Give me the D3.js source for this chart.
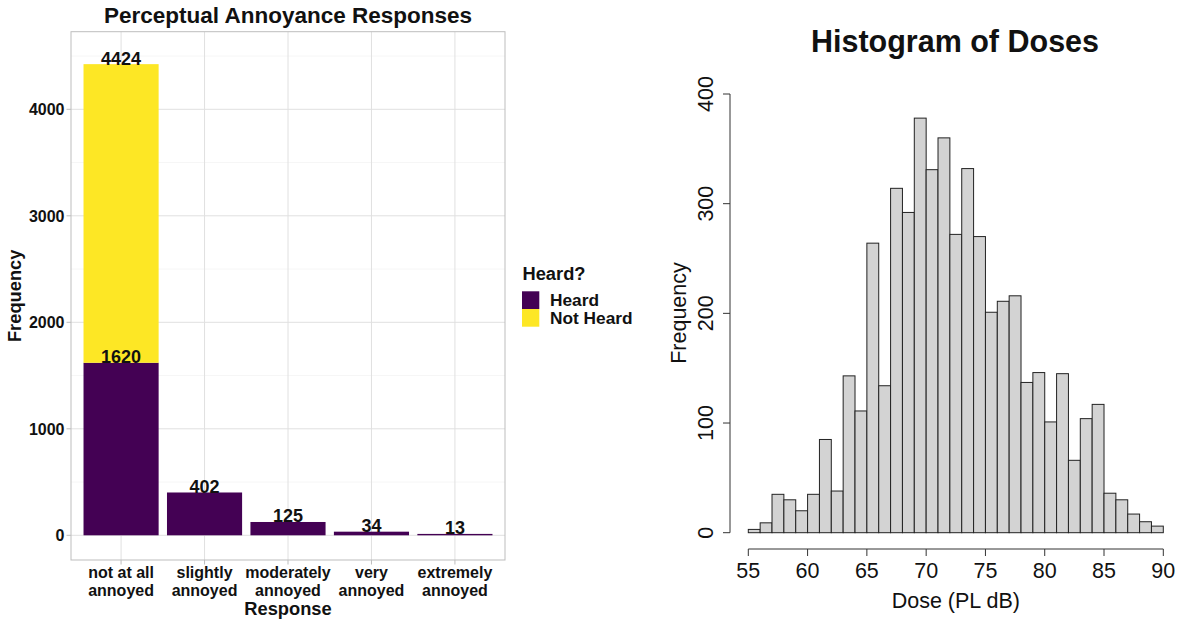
<!DOCTYPE html>
<html><head><meta charset="utf-8">
<script src="https://cdn.jsdelivr.net/npm/d3@7"></script>
<style>
body{margin:0;background:#fff;}
svg{display:block;font-family:"Liberation Sans",Arial,sans-serif;}
</style></head>
<body><svg id="c" width="1181" height="622"></svg>
<script>
// ---- Left chart data ----
const categories = ["not at all annoyed","slightly annoyed","moderately annoyed","very annoyed","extremely annoyed"];
const categoryLines = [["not at all","annoyed"],["slightly","annoyed"],["moderately","annoyed"],["very","annoyed"],["extremely","annoyed"]];
const heard = [1620, 402, 125, 34, 13];
const notHeard = [2804, 0, 0, 0, 0];
const groups = ["Heard","Not Heard"];
const groupColors = ["#440154","#FDE725"];
const yTicksLeft = [0,1000,2000,3000,4000];
const yMinorLeft = [500,1500,2500,3500,4500];

// ---- Right chart data ----
const binStarts = [55,56,57,58,59,60,61,62,63,64,65,66,67,68,69,70,71,72,73,74,75,76,77,78,79,80,81,82,83,84,85,86,87,88,89];
const binCounts = [3,9,35,30,20,35,85,38,143,111,264,134,314,292,378,331,360,272,332,270,201,211,216,137,146,101,145,66,104,117,36,30,17,10,6];
const xTicksRight = [55,60,65,70,75,80,85,90];
const yTicksRight = [0,100,200,300,400];

const svg = d3.select("#c");

// ================= LEFT =================
(function(){
  const L=71,R=505,T=31.7,B=560;
  const x = d3.scaleBand().domain(categories).range([L,R]).paddingInner(0.1).paddingOuter(0.15);
  const y = d3.scaleLinear().domain([0,4000]).range([535.3,109.3]);
  const g = svg.append("g");
  // minor grid
  g.selectAll(".mn").data(yMinorLeft.filter(v=>y(v)>T)).enter().append("line")
    .attr("x1",L).attr("x2",R).attr("y1",d=>y(d)).attr("y2",d=>y(d))
    .attr("stroke","#efefef").attr("stroke-width",0.6);
  // major grid
  g.selectAll(".mj").data(yTicksLeft).enter().append("line")
    .attr("x1",L).attr("x2",R).attr("y1",d=>y(d)).attr("y2",d=>y(d))
    .attr("stroke","#e0e0e0").attr("stroke-width",1);
  g.selectAll(".vg").data(categories).enter().append("line")
    .attr("x1",d=>x(d)+x.bandwidth()/2).attr("x2",d=>x(d)+x.bandwidth()/2).attr("y1",T).attr("y2",B)
    .attr("stroke","#e0e0e0").attr("stroke-width",1);
  // stacked bars
  const rows = categories.map((c,i)=>({cat:c, "Heard":heard[i], "Not Heard":notHeard[i]}));
  const stack = d3.stack().keys(groups)(rows);
  stack.forEach((layer,li)=>{
    g.selectAll(".b"+li).data(layer.filter(d=>d[1]>d[0])).enter().append("rect")
      .attr("x",d=>x(d.data.cat)).attr("width",x.bandwidth())
      .attr("y",d=>y(d[1])).attr("height",d=>y(d[0])-y(d[1]))
      .attr("fill",groupColors[li]);
  });
  // labels
  stack.forEach((layer,li)=>{
    g.selectAll(".l"+li).data(layer.filter(d=>d[1]>d[0])).enter().append("text")
      .attr("x",d=>x(d.data.cat)+x.bandwidth()/2).attr("y",d=>y(d[1])+0.5)
      .attr("text-anchor","middle").attr("font-weight","bold").attr("font-size",18).attr("fill","#111")
      .text(d=>d[1]);
  });
  // panel border
  g.append("rect").attr("x",L).attr("y",T).attr("width",R-L).attr("height",B-T)
    .attr("fill","none").attr("stroke","#bdbdbd").attr("stroke-width",1);
  // y axis ticks
  g.selectAll(".yt").data(yTicksLeft).enter().append("line")
    .attr("x1",L-4.5).attr("x2",L).attr("y1",d=>y(d)).attr("y2",d=>y(d)).attr("stroke","#bdbdbd");
  g.selectAll(".ytl").data(yTicksLeft).enter().append("text")
    .attr("x",L-6.5).attr("y",d=>y(d)).attr("dy","0.36em").attr("text-anchor","end")
    .attr("font-weight","bold").attr("font-size",16).attr("fill","#111").text(d=>d);
  // x axis ticks
  g.selectAll(".xt").data(categories).enter().append("line")
    .attr("x1",d=>x(d)+x.bandwidth()/2).attr("x2",d=>x(d)+x.bandwidth()/2).attr("y1",B).attr("y2",B+4.5).attr("stroke","#bdbdbd");
  categories.forEach((c,i)=>{
    const t=g.append("text").attr("text-anchor","middle").attr("font-weight","bold").attr("font-size",16).attr("fill","#111");
    categoryLines[i].forEach((ln,j)=>{
      t.append("tspan").attr("x",x(c)+x.bandwidth()/2).attr("y",578+j*18).text(ln);
    });
  });
  // titles
  g.append("text").attr("x",(L+R)/2).attr("y",22.7).attr("text-anchor","middle")
    .attr("font-weight","bold").attr("font-size",22.5).attr("fill","#111").text("Perceptual Annoyance Responses");
  g.append("text").attr("x",(L+R)/2).attr("y",615).attr("text-anchor","middle")
    .attr("font-weight","bold").attr("font-size",18.3).attr("fill","#111").text("Response");
  g.append("text").attr("transform",`translate(21,${(T+B)/2}) rotate(-90)`).attr("text-anchor","middle")
    .attr("font-weight","bold").attr("font-size",18.3).attr("fill","#111").text("Frequency");
  // legend
  g.append("text").attr("x",522.5).attr("y",280).attr("font-weight","bold").attr("font-size",18.3).attr("fill","#111").text("Heard?");
  groups.forEach((k,i)=>{
    g.append("rect").attr("x",522).attr("y",291.3+i*17.7).attr("width",17.3).attr("height",17.7).attr("fill",groupColors[i]);
    g.append("text").attr("x",550).attr("y",300.2+i*17.7).attr("dy","0.36em").attr("font-weight","bold").attr("font-size",17.3).attr("fill","#111").text(k);
  });
})();

// ================= RIGHT =================
(function(){
  const x = d3.scaleLinear().domain([55,90]).range([748.3,1163.3]);
  const y = d3.scaleLinear().domain([0,400]).range([532.7,94]);
  const g = svg.append("g");
  g.selectAll(".hb").data(binStarts).enter().append("rect")
    .attr("x",(d)=>x(d)).attr("width",(d)=>x(d+1)-x(d))
    .attr("y",(d,i)=>y(binCounts[i])).attr("height",(d,i)=>y(0)-y(binCounts[i]))
    .attr("fill","#d3d3d3").attr("stroke","#222").attr("stroke-width",1);
  // x axis
  const xa = 549;
  g.append("line").attr("x1",x(55)).attr("x2",x(90)).attr("y1",xa).attr("y2",xa).attr("stroke","#333");
  g.selectAll(".xt").data(xTicksRight).enter().append("line")
    .attr("x1",d=>x(d)).attr("x2",d=>x(d)).attr("y1",xa).attr("y2",xa+7).attr("stroke","#333");
  g.selectAll(".xtl").data(xTicksRight).enter().append("text")
    .attr("x",d=>x(d)).attr("y",570).attr("dy","0.36em").attr("text-anchor","middle")
    .attr("font-size",21.5).attr("fill","#111").text(d=>d);
  // y axis
  const ya = 730;
  g.append("line").attr("x1",ya).attr("x2",ya).attr("y1",y(0)).attr("y2",y(400)).attr("stroke","#333");
  g.selectAll(".yt").data(yTicksRight).enter().append("line")
    .attr("x1",ya-7).attr("x2",ya).attr("y1",d=>y(d)).attr("y2",d=>y(d)).attr("stroke","#333");
  g.selectAll(".ytl").data(yTicksRight).enter().append("text")
    .attr("transform",d=>`translate(705,${y(d)}) rotate(-90)`).attr("dy","0.36em").attr("text-anchor","middle")
    .attr("font-size",21.5).attr("fill","#111").text(d=>d);
  // titles
  g.append("text").attr("x",955).attr("y",51.5).attr("text-anchor","middle")
    .attr("font-weight","bold").attr("font-size",30.5).attr("fill","#111").text("Histogram of Doses");
  g.append("text").attr("x",955.8).attr("y",600).attr("dy","0.36em").attr("text-anchor","middle")
    .attr("font-size",21.5).attr("fill","#111").text("Dose (PL dB)");
  g.append("text").attr("transform",`translate(678,${313}) rotate(-90)`).attr("dy","0.36em").attr("text-anchor","middle")
    .attr("font-size",21.5).attr("fill","#111").text("Frequency");
})();
</script></body></html>
